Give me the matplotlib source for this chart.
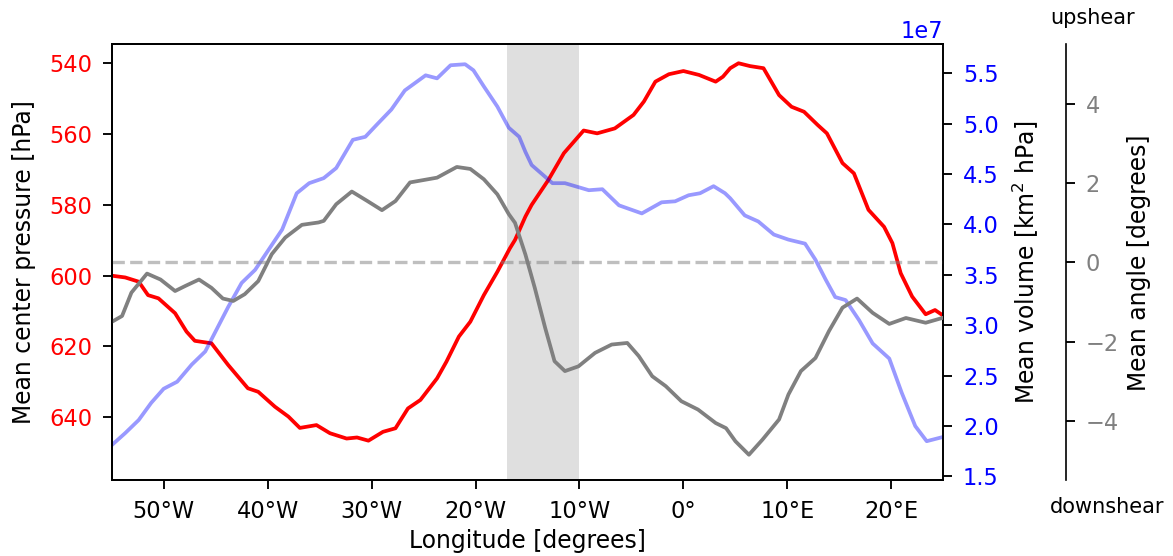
import matplotlib
matplotlib.use("Agg")
import matplotlib.pyplot as plt
import numpy as np

plt.rcParams['font.family'] = ['DejaVu Sans']
plt.rcParams['font.size'] = 10

# ---- data ----
lon_p = [-55, -53.7, -52.4, -51.5, -50.5, -48.9, -47.8, -47.0, -45.4, -43.8, -41.9, -40.9,
         -39.3, -38.0, -36.9, -35.9, -35.3, -34.0, -32.4, -31.4, -30.3, -28.9, -27.7, -26.5,
         -25.3, -23.7, -22.8, -21.6, -20.5, -19.2, -17.9, -16.7, -16.2, -15.2, -14.6, -13.0,
         -11.5, -9.6, -8.3, -6.6, -4.8, -3.8, -2.7, -1.4, 0.0, 1.5, 3.1, 3.8, 4.5, 5.3, 6.4,
         7.7, 9.2, 10.4, 11.6, 12.9, 13.8, 15.3, 16.4, 17.8, 19.3, 20.1, 20.9, 22.0, 23.3,
         24.2, 24.9]
pressure = [600.0, 600.5, 601.7, 605.5, 606.4, 610.6, 615.8, 618.4, 619.1, 625.2, 631.8, 632.8,
            637.0, 639.8, 643.0, 642.5, 642.2, 644.5, 646.0, 645.7, 646.6, 644.1, 643.1, 637.5,
            635.1, 629.0, 624.3, 617.2, 613.0, 605.5, 598.9, 592.3, 589.9, 583.3, 580.0, 573.0,
            565.4, 559.0, 559.8, 558.4, 554.6, 550.8, 545.2, 543.1, 542.2, 543.3, 545.2, 543.8,
            541.4, 540.0, 540.8, 541.4, 549.0, 552.3, 553.7, 557.4, 559.8, 568.2, 571.1, 581.4,
            586.2, 590.8, 599.3, 605.9, 610.9, 609.7, 611.1]

lon_v = [-55, -53.7, -52.4, -51.2, -50.0, -48.7, -47.3, -46.0, -45.1, -43.8, -42.5, -41.2,
         -39.9, -38.6, -37.2, -36.0, -34.6, -33.4, -31.8, -30.6, -29.5, -28.1, -26.8, -24.8,
         -23.7, -22.4, -21.0, -20.2, -19.2, -17.9, -16.8, -15.8, -15.2, -14.6, -12.6, -11.4,
         -9.1, -7.8, -6.2, -4.0, -2.1, -0.8, 0.5, 1.6, 2.9, 4.0, 4.5, 5.9, 7.2, 8.7, 10.1,
         11.7, 12.7, 13.7, 14.6, 15.6, 16.9, 18.2, 19.8, 21.0, 22.3, 23.4, 24.9]
volume_1e7 = [1.81, 1.93, 2.06, 2.23, 2.37, 2.44, 2.61, 2.74, 2.92, 3.18, 3.42, 3.55,
              3.75, 3.95, 4.31, 4.41, 4.46, 4.56, 4.84, 4.87, 4.99, 5.14, 5.33, 5.48,
              5.45, 5.58, 5.59, 5.53, 5.37, 5.17, 4.96, 4.87, 4.72, 4.59, 4.41, 4.41,
              4.34, 4.35, 4.19, 4.11, 4.22, 4.23, 4.29, 4.31, 4.38, 4.31, 4.26, 4.09, 4.03,
              3.90, 3.85, 3.81, 3.65, 3.45, 3.28, 3.25, 3.05, 2.82, 2.67, 2.33, 2.00, 1.85, 1.89]

lon_a = [-55, -54.0, -53.1, -51.6, -50.3, -48.9, -47.9, -46.6, -45.4, -44.3, -43.3, -42.2,
         -40.9, -39.6, -38.3, -36.7, -35.1, -34.6, -33.4, -31.9, -30.4, -29.0, -27.7, -26.3,
         -25.0, -23.7, -21.8, -20.5, -19.2, -17.9, -16.8, -16.2, -15.2, -14.3, -13.3, -12.4,
         -11.4, -10.1, -8.5, -6.9, -5.4, -4.3, -3.0, -1.7, -0.2, 1.4, 3.1, 4.1, 5.0, 6.3,
         7.6, 9.2, 10.1, 11.3, 12.7, 14.0, 15.3, 16.7, 18.2, 19.8, 21.4, 23.3, 24.9]
angle = [-1.50, -1.35, -0.76, -0.28, -0.43, -0.72, -0.59, -0.43, -0.64, -0.91, -0.97, -0.80,
         -0.47, 0.21, 0.63, 0.95, 1.01, 1.05, 1.47, 1.79, 1.55, 1.32, 1.55, 2.02,
         2.08, 2.14, 2.41, 2.36, 2.10, 1.72, 1.22, 1.00, 0.20, -0.64, -1.65, -2.49,
         -2.74, -2.62, -2.28, -2.07, -2.03, -2.36, -2.87, -3.12, -3.50, -3.71, -4.05, -4.18,
         -4.51, -4.85, -4.47, -3.96, -3.33, -2.74, -2.41, -1.73, -1.14, -0.91, -1.27, -1.55,
         -1.40, -1.52, -1.40]

xticks = [-50, -40, -30, -20, -10, 0, 10, 20]
xticklabels = ['50°W', '40°W', '30°W', '20°W', '10°W', '0°', '10°E', '20°E']
shade_span = (-17, -10)

# ---- figure ----
fig = plt.figure(figsize=(1173 / 150, 556 / 150), dpi=150)
ax1 = fig.add_axes([0.0952, 0.1358, 0.8042 - 0.0952, 0.92 - 0.1358])
tick_kw = dict(length=4.4, width=0.9, pad=5.0, labelsize=10.8)
label_fs = 11.3

ax1.axvspan(*shade_span, color='gray', alpha=0.25, lw=0, zorder=0)
ax1.plot(lon_p, pressure, color='red', lw=1.8, solid_joinstyle='round')
ax1.set_xlim(-55, 25)
ax1.set_ylim(657.85, 534.7)
ax1.set_yticks([540, 560, 580, 600, 620, 640])
ax1.set_xticks(xticks)
ax1.set_xticklabels(xticklabels)
ax1.tick_params(axis='y', labelcolor='red', **tick_kw)
ax1.tick_params(axis='x', **tick_kw)
ax1.set_xlabel('Longitude [degrees]', labelpad=3, fontsize=label_fs)
ax1.set_ylabel('Mean center pressure [hPa]', labelpad=6, fontsize=label_fs)

ax2 = ax1.twinx()
ax2.plot(lon_v, np.array(volume_1e7) * 1e7, color='blue', alpha=0.4, lw=1.8,
         solid_joinstyle='round')
ax2.set_ylim(1.46e7, 5.786e7)
ax2.set_yticks(np.array([1.5, 2.0, 2.5, 3.0, 3.5, 4.0, 4.5, 5.0, 5.5]) * 1e7)
ax2.tick_params(axis='y', labelcolor='blue', **tick_kw)
ax2.yaxis.get_offset_text().set_color('blue')
ax2.yaxis.get_offset_text().set_fontsize(10.8)
ax2.set_ylabel('Mean volume [km$^2$ hPa]', labelpad=6, fontsize=label_fs)

ax3 = ax1.twinx()
ax3.spines['right'].set_position(('axes', 1.1475))
ax3.plot(lon_a, angle, color='gray', lw=1.8, solid_joinstyle='round')
ax3.axhline(0, color='gray', ls='--', alpha=0.5, lw=1.6)
ax3.set_ylim(-5.5, 5.5)
ax3.set_yticks([-4, -2, 0, 2, 4])
ax3.tick_params(axis='y', labelcolor='gray', **tick_kw)
ax3.set_ylabel('Mean angle [degrees]', labelpad=4, fontsize=label_fs)

fig.text(1050 / 1173, 1 - 18 / 556, 'upshear', ha='left', va='center', fontsize=10)
fig.text(1050 / 1173, 1 - 507 / 556, 'downshear', ha='left', va='center', fontsize=10)

fig.savefig('out.png', dpi=150)
